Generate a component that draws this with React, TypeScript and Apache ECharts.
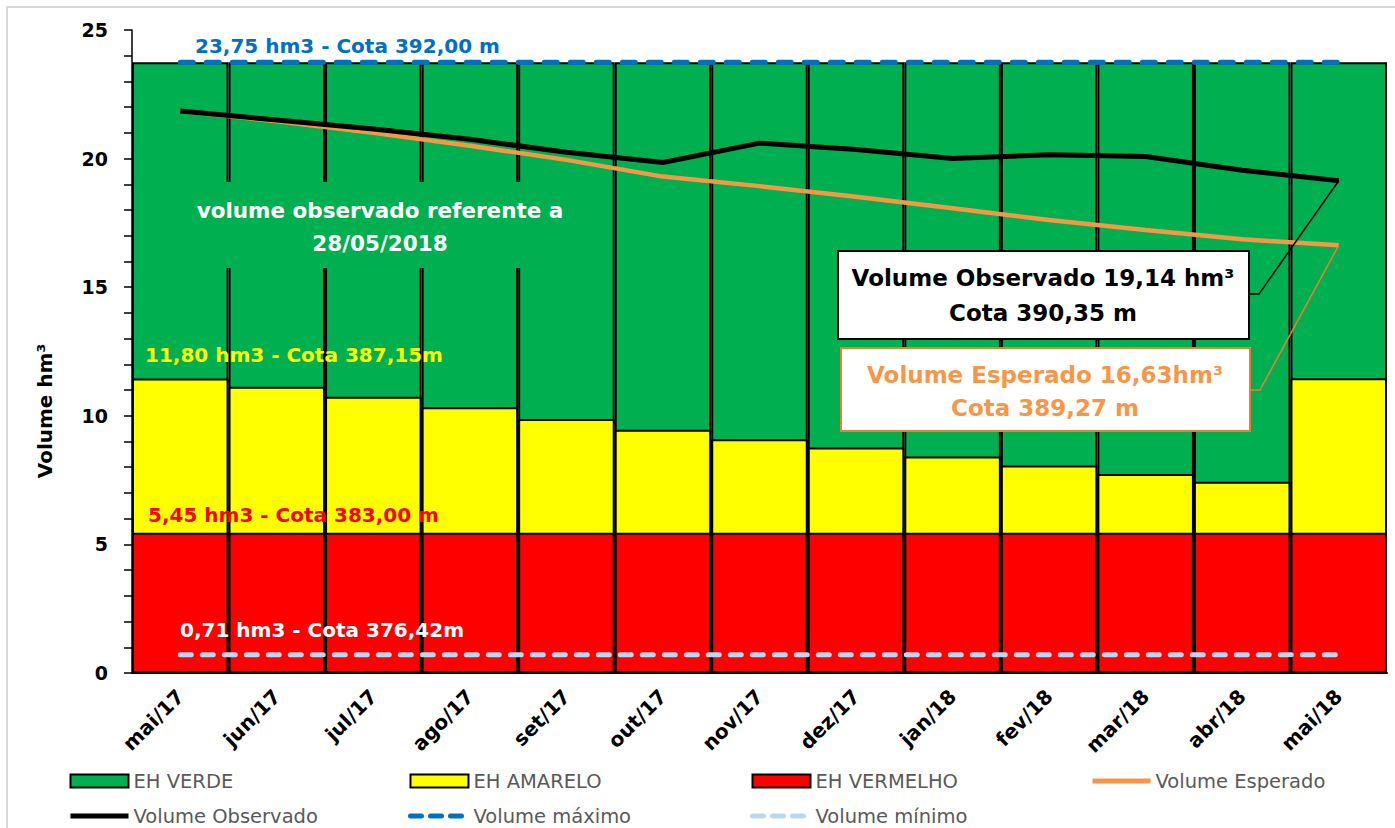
import React, { useEffect, useRef } from 'react';
import * as echarts from 'echarts';

const categories = ['mai/17', 'jun/17', 'jul/17', 'ago/17', 'set/17', 'out/17', 'nov/17', 'dez/17', 'jan/18', 'fev/18', 'mar/18', 'abr/18', 'mai/18'];
const greenTop = [23.75, 23.75, 23.75, 23.75, 23.75, 23.75, 23.75, 23.75, 23.75, 23.75, 23.75, 23.75, 23.75];
const yellowTop = [11.45, 11.13, 10.74, 10.33, 9.88, 9.46, 9.09, 8.77, 8.42, 8.07, 7.74, 7.44, 11.46];
const redTop = [5.45, 5.45, 5.45, 5.45, 5.45, 5.45, 5.45, 5.45, 5.45, 5.45, 5.45, 5.45, 5.45];
const expected = [21.85, 21.45, 21.0, 20.5, 19.95, 19.3, 18.93, 18.52, 18.07, 17.61, 17.22, 16.86, 16.63];
const observed = [21.85, 21.5, 21.15, 20.75, 20.25, 19.85, 20.6, 20.35, 20.0, 20.15, 20.08, 19.55, 19.14];
const maxVolume = [23.75, 23.75, 23.75, 23.75, 23.75, 23.75, 23.75, 23.75, 23.75, 23.75, 23.75, 23.75, 23.75];
const minVolume = [0.71, 0.71, 0.71, 0.71, 0.71, 0.71, 0.71, 0.71, 0.71, 0.71, 0.71, 0.71, 0.71];
const yTicks = { min: 0, max: 25, interval: 5 };

const FONT = "'DejaVu Sans', sans-serif";

export default function App() {
  const ref = useRef<HTMLDivElement>(null);
  useEffect(() => {
    document.body.style.margin = '0';
    const chart = echarts.init(ref.current!, null, { renderer: 'svg' });
    const barBase: any = {
      type: 'bar',
      barGap: '-100%',
      barCategoryGap: '0%',
      silent: true,
    };
    const legendCommon: any = {
      orient: 'vertical',
      top: 771,
      height: 80,
      itemWidth: 58,
      itemHeight: 13,
      itemGap: 15,
      padding: 0,
      textStyle: { fontFamily: FONT, fontSize: 19.5, color: '#595959' },
      selectedMode: false,
    };
    const barItem = (name: string) => ({ name, icon: 'rect' });
    const lineItem = (name: string, lineStyle: any) => ({ name, itemStyle: { opacity: 0 }, lineStyle });
    chart.setOption({
      animation: false,
      grid: { left: 132, right: 8, top: 30, bottom: 155, containLabel: false },
      legend: [
        { ...legendCommon, left: 68, data: [barItem('EH VERDE'), lineItem('Volume Observado', { width: 5, color: '#000' })] },
        { ...legendCommon, left: 408, data: [barItem('EH AMARELO'), lineItem('Volume máximo', { width: 5, color: '#0070C0', type: [11, 9], cap: 'round' })] },
        { ...legendCommon, left: 750, data: [barItem('EH VERMELHO'), lineItem('Volume mínimo', { width: 5, color: '#BDD7EE', type: [11, 9], cap: 'round' })] },
        { ...legendCommon, left: 1090, data: [lineItem('Volume Esperado', { width: 5, color: '#F79646' })] },
      ],
      xAxis: {
        type: 'category',
        data: categories,
        axisLine: { lineStyle: { color: '#000', width: 2 } },
        axisTick: { show: false },
        axisLabel: {
          interval: 0,
          rotate: 45,
          margin: 20,
          fontFamily: FONT,
          fontWeight: 'bold',
          fontSize: 20,
          color: '#000',
        },
      },
      yAxis: {
        type: 'value',
        min: yTicks.min,
        max: yTicks.max,
        interval: yTicks.interval,
        axisLine: { show: true, lineStyle: { color: '#000', width: 1.5 } },
        axisTick: { show: true, length: 8, lineStyle: { color: '#000', width: 1.5 } },
        minorTick: { show: true, splitNumber: 5, length: 8, lineStyle: { color: '#000', width: 1.5 } },
        splitLine: { show: false },
        axisLabel: { fontFamily: FONT, fontWeight: 'bold', fontSize: 19, color: '#000', margin: 24 },
      },
      series: [
        { ...barBase, name: 'EH VERDE', data: greenTop, itemStyle: { color: '#00B050', borderColor: '#000', borderWidth: 2 } },
        { ...barBase, name: 'EH AMARELO', data: yellowTop, itemStyle: { color: '#FFFF00', borderColor: '#000', borderWidth: 2 } },
        { ...barBase, name: 'EH VERMELHO', data: redTop, itemStyle: { color: '#FF0000', borderColor: '#000', borderWidth: 2 } },
        {
          type: 'line', name: 'Volume Esperado', data: expected, symbol: 'none', silent: true,
          lineStyle: { color: '#F79646', width: 4.5 }, itemStyle: { color: '#F79646' },
        },
        {
          type: 'line', name: 'Volume Observado', data: observed, symbol: 'none', silent: true,
          lineStyle: { color: '#000000', width: 5 }, itemStyle: { color: '#000000' },
        },
        {
          type: 'line', name: 'Volume máximo', data: maxVolume, symbol: 'none', silent: true,
          lineStyle: { color: '#0070C0', width: 5, type: [13, 13], cap: 'round' }, itemStyle: { color: '#0070C0' },
        },
        {
          type: 'line', name: 'Volume mínimo', data: minVolume, symbol: 'none', silent: true,
          lineStyle: { color: '#BDD7EE', width: 5, type: [11, 11], cap: 'round' }, itemStyle: { color: '#BDD7EE' },
        },
      ],
    });

    const last = categories.length - 1;
    const pObs = chart.convertToPixel({ gridIndex: 0 }, [last, observed[last]]) as number[];
    const pExp = chart.convertToPixel({ gridIndex: 0 }, [last, expected[last]]) as number[];
    const bold = (size: number) => `bold ${size}px ${FONT}`;

    chart.setOption({
      graphic: [
        { type: 'rect', z: 100, silent: true, shape: { x: 7, y: 7, width: 1400, height: 900 }, style: { fill: 'none', stroke: '#D9D9D9', lineWidth: 2 } },
        { type: 'text', z: 100, silent: true, x: 45, y: 411, rotation: Math.PI / 2, style: { text: 'Volume hm³', font: bold(20), fill: '#000', textAlign: 'center', textVerticalAlign: 'middle' } },
        { type: 'text', z: 100, silent: true, x: 195, y: 46, style: { text: '23,75 hm3 - Cota 392,00 m', font: bold(20), fill: '#0070C0', textAlign: 'left', textVerticalAlign: 'middle' } },
        { type: 'rect', z: 100, silent: true, shape: { x: 190, y: 182, width: 385, height: 86 }, style: { fill: '#00B050' } },
        { type: 'text', z: 101, silent: true, x: 380, y: 227, style: { text: 'volume observado referente a\n28/05/2018', font: bold(21.5), lineHeight: 33, fill: '#FFFFFF', textAlign: 'center', textVerticalAlign: 'middle' } },
        { type: 'text', z: 100, silent: true, x: 145, y: 355, style: { text: '11,80 hm3 - Cota 387,15m', font: bold(20), fill: '#FFFF00', textAlign: 'left', textVerticalAlign: 'middle' } },
        { type: 'text', z: 100, silent: true, x: 148, y: 515, style: { text: '5,45 hm3 - Cota 383,00 m', font: bold(20), fill: '#FF0000', textAlign: 'left', textVerticalAlign: 'middle' } },
        { type: 'text', z: 100, silent: true, x: 180, y: 630, style: { text: '0,71 hm3 - Cota 376,42m', font: bold(20), fill: '#FFFFFF', textAlign: 'left', textVerticalAlign: 'middle' } },
        { type: 'polyline', z: 100, silent: true, shape: { points: [[1249, 294], [1259, 294], [pObs[0], pObs[1]]] }, style: { stroke: '#000', lineWidth: 1.5, fill: 'none' } },
        { type: 'polyline', z: 100, silent: true, shape: { points: [[1250, 390], [1260, 390], [pExp[0], pExp[1]]] }, style: { stroke: '#ED7D31', lineWidth: 1.5, fill: 'none' } },
        { type: 'rect', z: 101, silent: true, shape: { x: 838, y: 251, width: 411, height: 88 }, style: { fill: '#FFFFFF', stroke: '#000', lineWidth: 2 } },
        { type: 'text', z: 102, silent: true, x: 1043, y: 295.5, style: { text: 'Volume Observado 19,14 hm³\nCota 390,35 m', font: bold(23), lineHeight: 35, fill: '#000', textAlign: 'center', textVerticalAlign: 'middle' } },
        { type: 'rect', z: 101, silent: true, shape: { x: 841, y: 348, width: 409, height: 83 }, style: { fill: '#FFFFFF', stroke: '#ED7D31', lineWidth: 2 } },
        { type: 'text', z: 102, silent: true, x: 1045, y: 391.5, style: { text: 'Volume Esperado 16,63hm³\nCota 389,27 m', font: bold(23), lineHeight: 33, fill: '#F79646', textAlign: 'center', textVerticalAlign: 'middle' } },
      ],
    });

    return () => {
      chart.dispose();
    };
  }, []);
  return <div ref={ref} style={{ width: 1395, height: 828 }} />;
}
